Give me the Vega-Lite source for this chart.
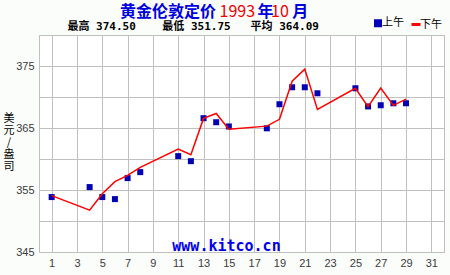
{
  "$schema": "https://vega.github.io/schema/vega-lite/v6.json",
  "width": 405,
  "height": 217,
  "autosize": {"type": "none"},
  "padding": {"left": 39, "top": 35, "right": 6, "bottom": 23},
  "background": "#fbfdfb",
  "config": {
    "view": {"stroke": "#c0c0c0", "strokeWidth": 1, "fill": "white"}
  },
  "title": {
    "text": "黄金伦敦定价\u00a0\u2007\u2007\u2007\u2007年\u2007\u2007月",
    "subtitle": "\u200b\u3000\u3000\u3000\u3000\u3000\u3000\u00a01993\u300010",
    "anchor": "start",
    "frame": "group",
    "dx": 81,
    "dy": 4,
    "baseline": "top",
    "offset": 1,
    "font": "Noto Sans CJK SC",
    "fontSize": 16,
    "fontWeight": "bold",
    "color": "#0000dd",
    "subtitleFont": "Noto Sans CJK SC",
    "subtitleFontSize": 16,
    "subtitleFontWeight": "normal",
    "subtitleColor": "#ee0000",
    "subtitlePadding": -16
  },
  "data": {
    "values": [
      {"day": 1, "session": "上午", "price": 353.86},
      {"day": 4, "session": "上午", "price": 355.47},
      {"day": 5, "session": "上午", "price": 353.86},
      {"day": 6, "session": "上午", "price": 353.53},
      {"day": 7, "session": "上午", "price": 356.92},
      {"day": 8, "session": "上午", "price": 357.88},
      {"day": 11, "session": "上午", "price": 360.46},
      {"day": 12, "session": "上午", "price": 359.65},
      {"day": 13, "session": "上午", "price": 366.58},
      {"day": 14, "session": "上午", "price": 365.93},
      {"day": 15, "session": "上午", "price": 365.25},
      {"day": 18, "session": "上午", "price": 364.95},
      {"day": 19, "session": "上午", "price": 368.83},
      {"day": 20, "session": "上午", "price": 371.57},
      {"day": 21, "session": "上午", "price": 371.57},
      {"day": 22, "session": "上午", "price": 370.6},
      {"day": 25, "session": "上午", "price": 371.41},
      {"day": 26, "session": "上午", "price": 368.48},
      {"day": 27, "session": "上午", "price": 368.67},
      {"day": 28, "session": "上午", "price": 368.99},
      {"day": 29, "session": "上午", "price": 368.99},
      {"day": 1, "session": "下午", "price": 354.1},
      {"day": 4, "session": "下午", "price": 351.75},
      {"day": 5, "session": "下午", "price": 354.4},
      {"day": 6, "session": "下午", "price": 356.35},
      {"day": 7, "session": "下午", "price": 357.35},
      {"day": 8, "session": "下午", "price": 358.65},
      {"day": 11, "session": "下午", "price": 361.6},
      {"day": 12, "session": "下午", "price": 360.7},
      {"day": 13, "session": "下午", "price": 366.55},
      {"day": 14, "session": "下午", "price": 367.35},
      {"day": 15, "session": "下午", "price": 364.8},
      {"day": 18, "session": "下午", "price": 365.3},
      {"day": 19, "session": "下午", "price": 366.4},
      {"day": 20, "session": "下午", "price": 372.55},
      {"day": 21, "session": "下午", "price": 374.5},
      {"day": 22, "session": "下午", "price": 368.0},
      {"day": 25, "session": "下午", "price": 371.4},
      {"day": 26, "session": "下午", "price": 368.45},
      {"day": 27, "session": "下午", "price": 371.45},
      {"day": 28, "session": "下午", "price": 368.65},
      {"day": 29, "session": "下午", "price": 369.65}
    ]
  },
  "encoding": {
    "y": {
      "field": "price",
      "type": "quantitative",
      "scale": {"domain": [345, 380], "nice": false, "zero": false},
      "axis": {
        "values": [345, 350, 355, 360, 365, 370, 375, 380],
        "labelExpr": "datum.value % 10 == 5 ? datum.label : ''",
        "grid": true,
        "gridColor": "#c0c0c0",
        "gridOpacity": 1,
        "domain": false,
        "ticks": false,
        "labelPadding": 5,
        "labelFont": "Liberation Sans",
        "labelFontSize": 11,
        "labelColor": "#3a3a3a",
        "labelFlush": false,
        "title": ["美", "元", "/", "盎", "司"],
        "titleAngle": 0,
        "titleX": -30.5,
        "titleY": 77,
        "titleAlign": "center",
        "titleBaseline": "top",
        "titleFont": "Noto Sans CJK SC",
        "titleFontSize": 11,
        "titleFontWeight": "normal",
        "titleLineHeight": 12,
        "titleColor": "black"
      }
    },
    "color": {
      "field": "session",
      "type": "nominal",
      "scale": {"domain": ["上午", "下午"], "range": ["#0000b4", "#ff0000"]},
      "legend": {
        "orient": "none",
        "legendX": 333,
        "legendY": -18,
        "direction": "horizontal",
        "title": null,
        "labelFont": "Noto Sans CJK SC",
        "labelFontSize": 11,
        "labelColor": "black",
        "labelOffset": -2,
        "columnPadding": 1,
        "symbolSize": 81,
        "symbolStrokeWidth": 3,
        "encode": {
          "symbols": {
            "update": {
              "shape": {"signal": "datum.value === '上午' ? 'square' : 'stroke'"},
              "size": {"signal": "datum.value === '上午' ? 25 : 81"},
              "fill": {"signal": "datum.value === '上午' ? '#0000ff' : 'transparent'"},
              "stroke": {"signal": "datum.value === '上午' ? 'transparent' : '#ff0000'"},
              "strokeWidth": {"value": 3},
              "opacity": {"value": 1}
            }
          }
        }
      }
    }
  },
  "layer": [
    {
      "transform": [{"filter": "datum.session === '上午'"}],
      "mark": {"type": "point", "shape": "square", "filled": true, "size": 36, "opacity": 1},
      "encoding": {
        "x": {
          "field": "day",
          "type": "quantitative",
          "scale": {"domain": [0, 32], "nice": false, "zero": false},
          "axis": {
            "values": [1, 3, 5, 7, 9, 11, 13, 15, 17, 19, 21, 23, 25, 27, 29, 31],
            "grid": true,
            "gridColor": "#c0c0c0",
            "gridOpacity": 1,
            "domain": false,
            "ticks": false,
            "labelPadding": 5,
            "labelFont": "Liberation Sans",
            "labelFontSize": 11,
            "labelColor": "#3a3a3a",
            "labelFlush": false,
            "title": "www.kitco.cn",
            "titleFont": "DejaVu Sans Mono",
            "titleFontSize": 15,
            "titleFontWeight": "bold",
            "titleColor": "#0000ee",
            "titleX": 187,
            "titleY": -1.5,
            "titleAlign": "center",
            "titleBaseline": "alphabetic"
          }
        }
      }
    },
    {
      "transform": [{"filter": "datum.session === '下午'"}],
      "mark": {"type": "line", "strokeWidth": 1.5},
      "encoding": {
        "x": {
          "field": "day",
          "type": "quantitative",
          "axis": {
            "orient": "top",
            "labels": false,
            "ticks": false,
            "domain": false,
            "grid": false,
            "title": "最高\u00a0374.50\u00a0\u00a0\u00a0\u00a0最低\u00a0351.75\u00a0\u00a0\u00a0平均\u00a0364.09",
            "titleFont": "DejaVu Sans Mono, Noto Sans CJK SC",
            "titleFontSize": 11,
            "titleFontWeight": "bold",
            "titleColor": "black",
            "titleX": 28,
            "titleY": -9,
            "titleAlign": "left",
            "titleAngle": 0,
            "titleBaseline": "middle"
          }
        }
      }
    }
  ],
  "resolve": {"axis": {"x": "independent"}}
}
